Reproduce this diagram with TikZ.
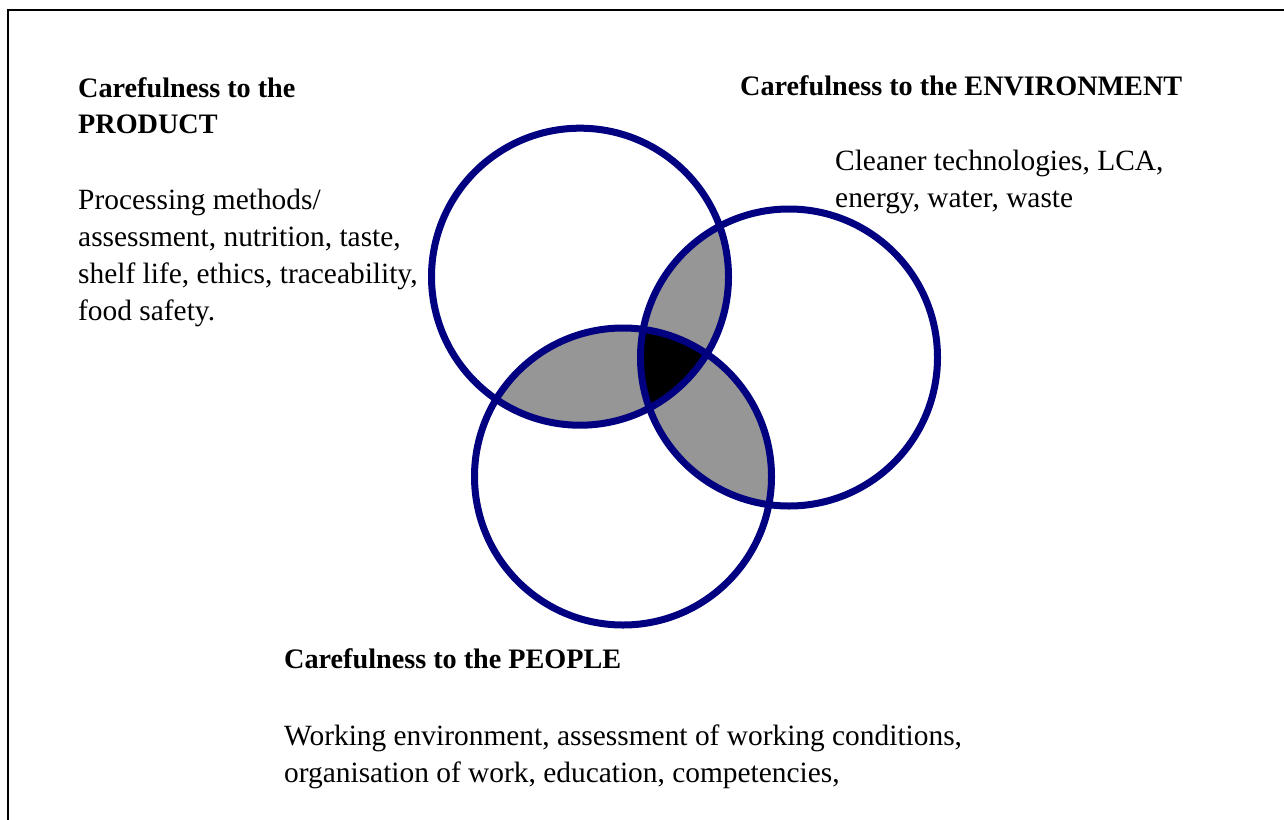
\documentclass[tikz,border=0pt]{standalone}
\usepackage{fontspec}
\setmainfont{Liberation Serif}
\definecolor{ringblue}{RGB}{0,0,128}
\definecolor{lensgray}{RGB}{150,150,150}
\begin{document}
\begin{tikzpicture}[x=1pt,y=-1pt,
  ring/.style={draw=ringblue,line width=7pt},
  head/.style={anchor=base west,inner sep=0pt,font=\fontsize{28.2}{36}\selectfont\bfseries},
  body/.style={anchor=base west,inner sep=0pt,font=\fontsize{29.4}{37}\selectfont}]
\useasboundingbox (0,0) rectangle (1284,819);
\fill[white] (0,0) rectangle (1284,819);
% frame (cropped at right and bottom)
\draw[line width=2pt] (8,840) -- (8,10) -- (1300,10);
% circle centres
\coordinate (cA) at (580,276.7);
\coordinate (cB) at (789,357.5);
\coordinate (cC) at (623,476.5);
\def\rr{148.5pt}
% pairwise lenses
\begin{scope}\clip (cA) circle[radius=\rr]; \fill[lensgray] (cB) circle[radius=\rr]; \end{scope}
\begin{scope}\clip (cA) circle[radius=\rr]; \fill[lensgray] (cC) circle[radius=\rr]; \end{scope}
\begin{scope}\clip (cB) circle[radius=\rr]; \fill[lensgray] (cC) circle[radius=\rr]; \end{scope}
% triple intersection
\begin{scope}\clip (cA) circle[radius=\rr]; \clip (cB) circle[radius=\rr]; \fill[black] (cC) circle[radius=\rr]; \end{scope}
% rings
\draw[ring] (cA) circle[radius=\rr];
\draw[ring] (cB) circle[radius=\rr];
\draw[ring] (cC) circle[radius=\rr];
% PRODUCT
\node[head] (ph1) at (78,97) {Carefulness to the};
\node[head] (ph2) at (78,133) {PRODUCT};
\node[body] (pb1) at (78,209) {Processing methods/};
\node[body] (pb2) at (78,246.5) {assessment, nutrition, taste,};
\node[body] (pb3) at (78,283.5) {shelf life, ethics, traceability,};
\node[body] (pb4) at (78,320.5) {food safety.};
% ENVIRONMENT
\node[head] (eh1) at (740,95) {Carefulness to the ENVIRONMENT};
\node[body] (eb1) at (835,170) {Cleaner technologies, LCA,};
\node[body] (eb2) at (835,207) {energy, water, waste};
% PEOPLE
\node[head] (hh1) at (284,668) {Carefulness to the PEOPLE};
\node[body] (hb1) at (284,745) {Working environment, assessment of working conditions,};
\node[body] (hb2) at (284,782) {organisation of work, education, competencies,};
\end{tikzpicture}
\end{document}
